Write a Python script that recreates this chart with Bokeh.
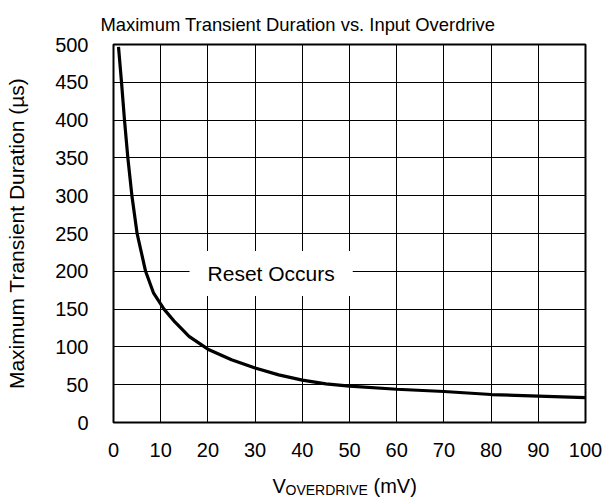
from bokeh.plotting import figure
from bokeh.models import Label, Range1d, FixedTicker
from bokeh.layouts import column
from bokeh.core.properties import value
from bokeh.embed import file_html
from bokeh.resources import INLINE

# Data
v_overdrive_mv = [1.06, 1.7, 2.33, 3.04, 3.9, 5.0, 6.8, 8.5, 10.7, 13, 16, 20, 25, 30, 35, 40, 45, 50, 60, 70, 80, 90, 100]
max_duration_us = [497, 450, 400, 350, 300, 250, 200, 171, 150, 133, 114, 97, 83, 72, 63, 56, 51, 48, 44, 41, 37, 35, 33]
x_ticks = [0, 10, 20, 30, 40, 50, 60, 70, 80, 90, 100]
y_ticks = [0, 50, 100, 150, 200, 250, 300, 350, 400, 450, 500]
title_text = "Maximum Transient Duration vs. Input Overdrive"
y_label_text = "Maximum Transient Duration (µs)"
x_label_main = "V"
x_label_sub = "OVERDRIVE"
x_label_unit = "(mV)"
region_text = "Reset Occurs"

FONT = "Liberation Sans"

p = figure(frame_width=472, frame_height=378,
           x_range=Range1d(0, 100), y_range=Range1d(0, 500),
           output_backend="svg", toolbar_location=None,
           min_border_left=113, min_border_right=19,
           min_border_top=44, min_border_bottom=40,
           title=title_text)

p.title.text_font = FONT
p.title.text_font_size = "18.4px"
p.title.text_font_style = "normal"
p.title.align = "left"
p.title.offset = -13
p.title.standoff = 19
p.title.text_color = "black"

p.outline_line_color = "black"
p.outline_line_width = 2
p.background_fill_color = "white"
p.border_fill_color = "white"

for ax in (p.xaxis[0], p.yaxis[0]):
    ax.axis_line_color = None
    ax.major_tick_line_color = None
    ax.minor_tick_line_color = None
    ax.major_label_text_font = FONT
    ax.major_label_text_font_size = "20px"
    ax.major_label_text_color = "black"

p.xaxis[0].ticker = FixedTicker(ticks=x_ticks)
p.yaxis[0].ticker = FixedTicker(ticks=y_ticks)
p.xaxis[0].major_label_standoff = 14
p.yaxis[0].major_label_standoff = 19

p.yaxis[0].axis_label = y_label_text
p.yaxis[0].axis_label_text_font = FONT
p.yaxis[0].axis_label_text_font_size = "21px"
p.yaxis[0].axis_label_text_font_style = "normal"
p.yaxis[0].axis_label_text_color = "black"
p.yaxis[0].axis_label_standoff = 24

for g in (p.xgrid[0], p.ygrid[0]):
    g.grid_line_color = "black"
    g.grid_line_width = 1
    g.grid_line_alpha = 1.0
p.xgrid[0].ticker = FixedTicker(ticks=x_ticks)
p.ygrid[0].ticker = FixedTicker(ticks=y_ticks)

p.line(v_overdrive_mv, max_duration_us, line_color="black", line_width=3.2)

p.add_layout(Label(x=33.4, y=197, text=region_text, text_align="center",
                   text_baseline="middle", text_font=FONT, text_font_size="21px",
                   text_color="black", background_fill_color="white",
                   padding=dict(left=18, right=18, top=11, bottom=11)))

# x-axis label (with subscript) in a strip below the chart
p2 = figure(frame_width=472, frame_height=39,
            x_range=p.x_range, y_range=Range1d(0, 39),
            output_backend="svg", toolbar_location=None,
            x_axis_location=None, y_axis_location=None,
            min_border_left=113, min_border_right=19,
            min_border_top=0, min_border_bottom=0)
p2.outline_line_color = None
p2.grid.visible = False
p2.background_fill_color = "white"
p2.border_fill_color = "white"

p2.text(x=[50], y=[16], text=[x_label_main], x_offset=-77, text_align="left",
        text_baseline="alphabetic", text_font=value(FONT), text_font_size="20px",
        text_color="black")
p2.text(x=[50], y=[12], text=[x_label_sub], x_offset=-64, text_align="left",
        text_baseline="alphabetic", text_font=value(FONT), text_font_size="14px",
        text_color="black")
p2.text(x=[50], y=[16], text=[x_label_unit], x_offset=24, text_align="left",
        text_baseline="alphabetic", text_font=value(FONT), text_font_size="20px",
        text_color="black")

layout = column(p, p2, spacing=0)
open("out.html", "w").write(file_html(layout, INLINE))
